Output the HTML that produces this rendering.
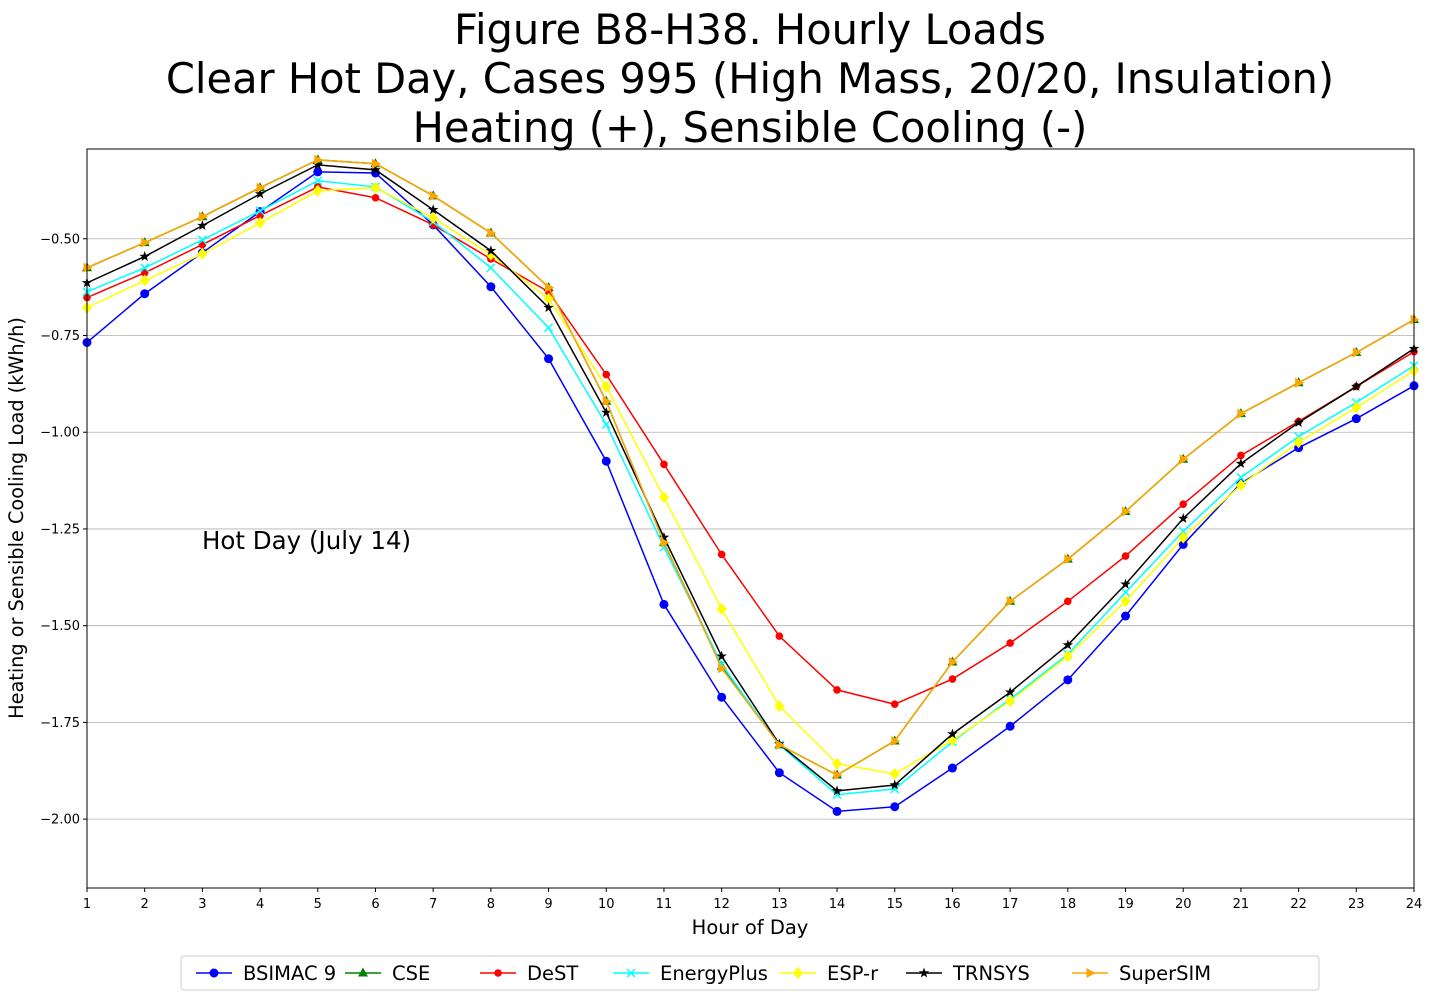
<!DOCTYPE html>
<html><head><meta charset="utf-8">
<style>
html,body{margin:0;padding:0;background:#fff;}
svg{display:block;font-family:"DejaVu Sans","Liberation Sans",sans-serif;}
</style></head>
<body>
<svg id="chart" width="1432" height="1001">
  <g font-size="41.6" text-anchor="middle" fill="#000">
    <text x="750" y="44">Figure B8-H38. Hourly Loads</text>
    <text x="750" y="93">Clear Hot Day, Cases 995 (High Mass, 20/20, Insulation)</text>
    <text x="750" y="142">Heating (+), Sensible Cooling (-)</text>
  </g>
  <g id="grid"></g>
  <g id="series"></g>
  <g id="axes"></g>
  <text x="202" y="549" font-size="24.5">Hot Day (July 14)</text>
  <text x="750" y="934" font-size="19.5" text-anchor="middle">Hour of Day</text>
  <text transform="translate(23,518) rotate(-90)" font-size="19.3" text-anchor="middle">Heating or Sensible Cooling Load (kWh/h)</text>
  <g id="legend"></g>
</svg>
<script>
const hours = [1,2,3,4,5,6,7,8,9,10,11,12,13,14,15,16,17,18,19,20,21,22,23,24];
const yTicks = [-0.5,-0.75,-1.0,-1.25,-1.5,-1.75,-2.0];
const yTickLabels = ["−0.50","−0.75","−1.00","−1.25","−1.50","−1.75","−2.00"];
const seriesNames = ["BSIMAC 9","CSE","DeST","EnergyPlus","ESP-r","TRNSYS","SuperSIM"];
const bsimac = [-0.768,-0.642,-0.536,-0.43,-0.327,-0.33,-0.464,-0.624,-0.81,-1.075,-1.445,-1.685,-1.88,-1.98,-1.968,-1.868,-1.76,-1.64,-1.475,-1.29,-1.132,-1.04,-0.965,-0.88];
const cse = [-0.575,-0.51,-0.443,-0.368,-0.296,-0.306,-0.389,-0.485,-0.626,-0.92,-1.285,-1.605,-1.808,-1.886,-1.798,-1.594,-1.437,-1.328,-1.205,-1.07,-0.952,-0.872,-0.794,-0.709];
const dest = [-0.652,-0.588,-0.515,-0.44,-0.366,-0.394,-0.464,-0.552,-0.637,-0.851,-1.083,-1.316,-1.527,-1.666,-1.703,-1.638,-1.545,-1.437,-1.32,-1.186,-1.06,-0.972,-0.882,-0.792];
const energyplus = [-0.637,-0.575,-0.503,-0.428,-0.35,-0.366,-0.456,-0.575,-0.73,-0.98,-1.297,-1.6,-1.808,-1.937,-1.922,-1.8,-1.69,-1.574,-1.414,-1.256,-1.117,-1.011,-0.923,-0.828];
const espr = [-0.678,-0.608,-0.539,-0.459,-0.376,-0.368,-0.446,-0.541,-0.655,-0.882,-1.168,-1.457,-1.708,-1.857,-1.883,-1.796,-1.695,-1.579,-1.437,-1.272,-1.137,-1.026,-0.936,-0.841];
const trnsys = [-0.614,-0.546,-0.466,-0.384,-0.309,-0.322,-0.425,-0.531,-0.678,-0.949,-1.272,-1.579,-1.806,-1.927,-1.912,-1.78,-1.672,-1.55,-1.393,-1.223,-1.081,-0.975,-0.882,-0.784];
const supersim = [-0.575,-0.51,-0.443,-0.368,-0.296,-0.306,-0.389,-0.485,-0.626,-0.92,-1.285,-1.61,-1.808,-1.886,-1.798,-1.594,-1.437,-1.328,-1.205,-1.07,-0.952,-0.872,-0.794,-0.709];

const NS="http://www.w3.org/2000/svg";
const L=87,R=1414,T=149,B=888;
const yMin=-2.178,yMax=-0.268;
const xs=h=>L+(h-1)*(R-L)/23;
const ys=v=>T+(yMax-v)/(yMax-yMin)*(B-T);
function mk(tag,attrs,parent){const e=document.createElementNS(NS,tag);for(const k in attrs)e.setAttribute(k,attrs[k]);parent.appendChild(e);return e;}

const grid=document.getElementById('grid'),axes=document.getElementById('axes');
yTicks.forEach((v,i)=>{
  const y=ys(v);
  const g=mk('line',{x1:L,x2:R,y1:y,y2:y,stroke:'#b0b0b0','stroke-width':0.8},grid);
  
  
  mk('line',{x1:L-4,x2:L,y1:y,y2:y,stroke:'#000'},axes);
  const t=mk('text',{x:L-7,y:y+4.5,'font-size':13,'text-anchor':'end'},axes);
  t.textContent=yTickLabels[i];
  
  
});
hours.forEach(h=>{
  const x=xs(h);
  mk('line',{x1:x,x2:x,y1:B,y2:B+4,stroke:'#000'},axes);
  const t=mk('text',{x:x,y:B+20,'font-size':13,'text-anchor':'middle'},axes);
  t.textContent=h;
  
  
});
const frame=mk('rect',{x:L,y:T,width:R-L,height:B-T,fill:'none',stroke:'#000','stroke-width':1},axes);



function marker(type,x,y,color,parent){
  let e;
  if(type==='circle') e=mk('circle',{cx:x,cy:y,r:4.5,fill:color},parent);
  else if(type==='hex') e=mk('circle',{cx:x,cy:y,r:3.8,fill:color},parent);
  else if(type==='tri') e=mk('polygon',{points:`${x},${y-5.5} ${x-5},${y+3.5} ${x+5},${y+3.5}`,fill:color},parent);
  else if(type==='tri-right') e=mk('polygon',{points:`${x+5.5},${y} ${x-3.5},${y-5} ${x-3.5},${y+5}`,fill:color},parent);
  else if(type==='x') e=mk('path',{d:`M${x-4},${y-4}L${x+4},${y+4}M${x-4},${y+4}L${x+4},${y-4}`,stroke:color,'stroke-width':1.5,fill:'none'},parent);
  else if(type==='diamond') e=mk('polygon',{points:`${x},${y-6} ${x+5},${y} ${x},${y+6} ${x-5},${y}`,fill:color},parent);
  else if(type==='star'){let p=[];for(let i=0;i<10;i++){const r=i%2?2.2:5.5,a=-Math.PI/2+i*Math.PI/5;p.push((x+r*Math.cos(a)).toFixed(2)+','+(y+r*Math.sin(a)).toFixed(2));}e=mk('polygon',{points:p.join(' '),fill:color},parent);}
  return e;
}
const seriesData=[bsimac,cse,dest,energyplus,espr,trnsys,supersim];
const colors=['#0000ff','#008000','#ff0000','#00ffff','#ffff00','#000000','#ffa500'];
const markers=['circle','tri','hex','x','diamond','star','tri-right'];
const slugs=['bsimac9','cse','dest','energyplus','esp-r','trnsys','supersim'];
const sg=document.getElementById('series');
seriesData.forEach((d,si)=>{
  const g=mk('g',{},sg);
  
  
  const pts=d.map((v,i)=>xs(hours[i])+','+ys(v)).join(' ');
  const pl=mk('polyline',{points:pts,fill:'none',stroke:colors[si],'stroke-width':1.5},g);
  
  
  d.forEach((v,i)=>{
    const m=marker(markers[si],xs(hours[i]),ys(v),colors[si],g);
    
    
  });
});
const lg=document.getElementById('legend');
mk('rect',{x:181,y:956,width:1138,height:34,rx:3,fill:'#fff',stroke:'#ccc'},lg);
const lx=[196,345,480,613,780,906,1072];
seriesNames.forEach((n,i)=>{
  const g=mk('g',{},lg);
  
  
  mk('line',{x1:lx[i],x2:lx[i]+36,y1:973,y2:973,stroke:colors[i],'stroke-width':1.5},g);
  marker(markers[i],lx[i]+18,973,colors[i],g);
  const t=mk('text',{x:lx[i]+47,y:980,'font-size':19.5},g);
  t.textContent=n;
});
</script>
</body></html>
